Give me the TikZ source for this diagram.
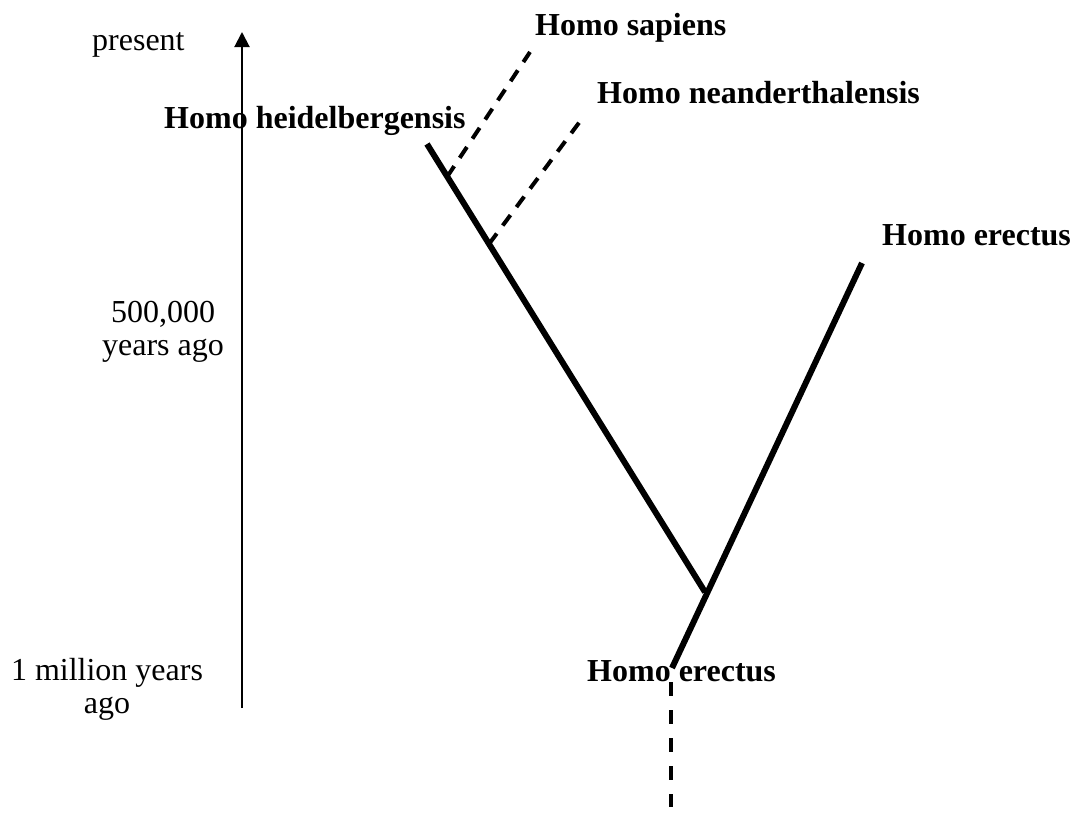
\documentclass[tikz,border=0pt]{standalone}
\usepackage{fontspec}
\setmainfont{Liberation Serif}
\usetikzlibrary{arrows.meta}
\tikzset{
  lbl/.style={inner sep=0pt, anchor=base west, font=\fontsize{32}{37}\selectfont},
  blbl/.style={lbl, font=\fontsize{32}{37}\selectfont\bfseries},
  clbl/.style={inner sep=0pt, anchor=base, font=\fontsize{32}{37}\selectfont},
  lineage/.style={line width=6pt},
  hypo/.style={line width=4pt, dash pattern=on 13pt off 10pt},
  hypov/.style={line width=4pt, dash pattern=on 14pt off 14pt},
  axis/.style={line width=2pt, -{Triangle[length=15pt,width=15pt]}}
}
\begin{document}
\begin{tikzpicture}[x=1pt,y=-1pt]
\useasboundingbox (0,0) rectangle (1073,819);
% time axis
\coordinate (axB) at (242,708);
\coordinate (axT) at (242,32);
\draw[axis] (axB) -- (axT);
\node[lbl] (present) at (92,50) {present};
\node[clbl] (fiveA) at (163,322) {500,000};
\node[clbl] (fiveB) at (163,355) {years ago};
\node[clbl] (millA) at (107,680) {1 million years};
\node[clbl] (millB) at (107,713) {ago};
% tree points
\coordinate (hTop) at (427,144);
\coordinate (J) at (705,592);
\coordinate (eTop) at (862,263);
\coordinate (eBot) at (672,668);
\coordinate (sBase) at (447,177);
\coordinate (sTop) at (530,52);
\coordinate (nBase) at (489,244);
\coordinate (nTop) at (584,116);
\coordinate (vTop) at (671,682);
\coordinate (vBot) at (671,807);
% branches
\draw[lineage] (hTop) -- (J);
\draw[lineage] (eBot) -- (eTop);
\draw[hypo] (sBase) -- (sTop);
\draw[hypo] (nBase) -- (nTop);
\draw[hypov] (vTop) -- (vBot);
% labels
\node[blbl] (sap) at (535,35) {Homo sapiens};
\node[blbl] (nea) at (597,103) {Homo neanderthalensis};
\node[blbl] (hei) at (164,128) {Homo heidelbergensis};
\node[blbl] (ere1) at (882,245) {Homo erectus};
\node[blbl] (ere2) at (587,681) {Homo erectus};
\end{tikzpicture}
\end{document}
